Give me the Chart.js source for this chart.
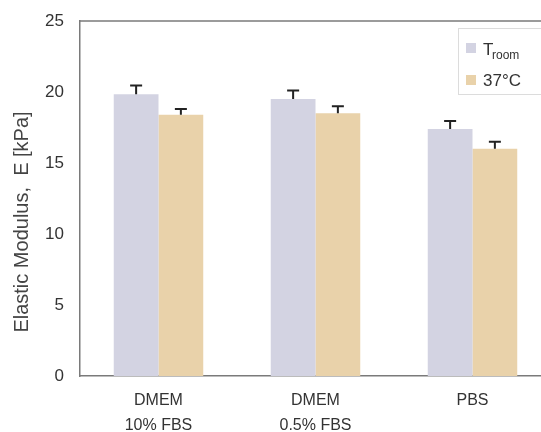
<!DOCTYPE html>
<html>
<head>
<meta charset="utf-8">
<script src="https://cdn.jsdelivr.net/npm/chart.js@4.4.1/dist/chart.umd.min.js"></script>
<style>
  html, body { margin: 0; padding: 0; background: #fff; overflow: hidden; }
  #wrap { width: 552px; height: 432px; }
</style>
</head>
<body>
<div id="wrap"><canvas id="modulusChart" width="552" height="432"></canvas></div>
<script>
// 조건 (x축 라벨)
const categories = [['DMEM', '10% FBS'], ['DMEM', '0.5% FBS'], 'PBS'];

// 탄성계수 값 (kPa)
const roomValues = [19.85, 19.5, 17.4];
const warmValues = [18.4, 18.5, 16.0];

// 오차 (위쪽만 표시)
const roomErrors = [0.6, 0.6, 0.55];
const warmErrors = [0.4, 0.5, 0.5];

const yTicks = [0, 5, 10, 15, 20, 25];
const yTitle = 'Elastic Modulus,  E [kPa]';

const roomColor = '#d3d3e2';
const warmColor = '#e9d2aa';
const frameColor = '#7a7a7a';
const fontFamily = '"Liberation Sans", Arial, sans-serif';

// 오차 막대 그리기
const errorBarPlugin = {
    id: 'errorBars',
    afterDatasetsDraw(chart) {
        const ctx = chart.ctx;
        const yScale = chart.scales.y;
        const errs = [roomErrors, warmErrors];
        ctx.save();
        ctx.strokeStyle = '#222';
        ctx.lineWidth = 2;
        chart.data.datasets.forEach((ds, di) => {
            const meta = chart.getDatasetMeta(di);
            meta.data.forEach((bar, i) => {
                const top = yScale.getPixelForValue(ds.data[i] + errs[di][i]);
                const base = yScale.getPixelForValue(ds.data[i]);
                ctx.beginPath();
                ctx.moveTo(bar.x, base);
                ctx.lineTo(bar.x, top);
                ctx.moveTo(bar.x - 6, top);
                ctx.lineTo(bar.x + 6, top);
                ctx.stroke();
            });
        });
        ctx.restore();
    }
};

// 위쪽 테두리, 축 제목, 범례 박스
const framePlugin = {
    id: 'frameAndLegend',
    afterDraw(chart) {
        const ctx = chart.ctx;
        const area = chart.chartArea;
        ctx.save();
        ctx.strokeStyle = frameColor;
        ctx.lineWidth = 1.5;
        ctx.beginPath();
        ctx.moveTo(area.left, area.top);
        ctx.lineTo(area.right, area.top);
        ctx.stroke();

        // y축 제목
        ctx.save();
        ctx.translate(22, 222);
        ctx.rotate(-Math.PI / 2);
        ctx.fillStyle = '#444';
        ctx.font = '20px ' + fontFamily;
        ctx.textAlign = 'center';
        ctx.textBaseline = 'middle';
        ctx.fillText(yTitle, 0, 0);
        ctx.restore();

        // 범례
        const lx = 458, ly = 28;
        ctx.fillStyle = '#fff';
        ctx.fillRect(lx, ly, 100, 66);
        ctx.strokeStyle = '#dcdcdc';
        ctx.lineWidth = 1;
        ctx.strokeRect(lx + 0.5, ly + 0.5, 100, 66);

        ctx.fillStyle = roomColor;
        ctx.fillRect(466, 43, 10, 10);
        ctx.fillStyle = warmColor;
        ctx.fillRect(466, 75, 10, 10);

        ctx.fillStyle = '#333';
        ctx.textBaseline = 'alphabetic';
        ctx.font = '17px ' + fontFamily;
        ctx.fillText('T', 483, 55);
        ctx.font = '12px ' + fontFamily;
        ctx.fillText('room', 492, 59);
        ctx.font = '17px ' + fontFamily;
        ctx.fillText('37°C', 483, 86);
        ctx.restore();
    }
};

const ctx = document.getElementById('modulusChart').getContext('2d');
new Chart(ctx, {
    type: 'bar',
    data: {
        labels: categories,
        datasets: [
            { label: 'Troom', data: roomValues, backgroundColor: roomColor, borderWidth: 0 },
            { label: '37°C', data: warmValues, backgroundColor: warmColor, borderWidth: 0 }
        ]
    },
    options: {
        responsive: false,
        animation: false,
        layout: { padding: { top: 21, right: 1, left: 0, bottom: 0 } },
        datasets: { bar: { categoryPercentage: 0.57, barPercentage: 1.0 } },
        plugins: {
            legend: { display: false },
            tooltip: { enabled: false }
        },
        scales: {
            x: {
                grid: { display: false },
                border: { display: true, color: frameColor, width: 1.5 },
                ticks: {
                    color: '#333',
                    padding: 4,
                    font: { family: fontFamily, size: 16, lineHeight: 1.55 }
                },
                afterFit(scale) { scale.height = 56; }
            },
            y: {
                min: 0,
                max: 25,
                afterBuildTicks(scale) { scale.ticks = yTicks.map(v => ({ value: v })); },
                grid: { display: false, drawTicks: false },
                border: { display: true, color: frameColor, width: 1.5 },
                ticks: {
                    color: '#333',
                    padding: 16,
                    font: { family: fontFamily, size: 17 }
                },
                afterFit(scale) {
                    scale.width = 80;
                    scale.paddingTop = 0;
                    scale.paddingBottom = 0;
                }
            }
        }
    },
    plugins: [errorBarPlugin, framePlugin]
});
</script>
</body>
</html>
